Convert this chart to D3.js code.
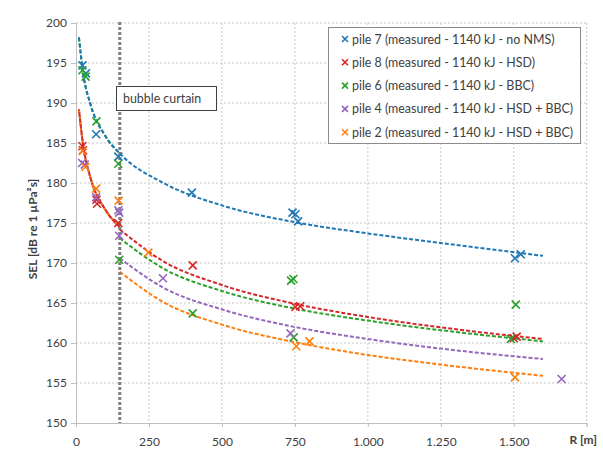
<!DOCTYPE html>
<html>
<head>
<meta charset="utf-8">
<script src="https://cdn.jsdelivr.net/npm/d3@7"></script>
<style>
  body { margin: 0; background: #fff; }
  text { font-family: Lato, "Open Sans", sans-serif; fill: #404040; }
</style>
</head>
<body>
<svg id="drawing_region"></svg>
<script>
// legend labels + colours, in legend order
const seriesLabels = [
  "pile 7 (measured - 1140 kJ - no NMS)",
  "pile 8 (measured - 1140 kJ - HSD)",
  "pile 6 (measured - 1140 kJ - BBC)",
  "pile 4 (measured - 1140 kJ - HSD + BBC)",
  "pile 2 (measured - 1140 kJ - HSD + BBC)"
];
const seriesColors = ["#1f77b4", "#d62728", "#2ca02c", "#9467bd", "#ff7f0e"];

// measured points [R in m, SEL in dB]
const pile7 = [[22, 194.7], [34, 193.7], [69, 186.1], [145, 183.3], [397, 178.8],
               [742, 176.3], [752, 176.1], [761, 175.2], [1504, 170.6], [1524, 171.1]];
const pile8 = [[22, 184.6], [24, 184.1], [70, 177.9], [72, 177.4], [145, 175.0],
               [400, 169.7], [752, 164.5], [768, 164.6], [1500, 160.6], [1510, 160.8]];
const pile6 = [[22, 194.1], [33, 193.3], [70, 187.7], [145, 182.4], [148, 170.4],
               [400, 163.7], [737, 167.8], [745, 168.0], [746, 160.7], [1490, 160.5], [1507, 164.8]];
const pile4 = [[21, 182.5], [30, 182.3], [69, 178.2], [145, 176.6], [148, 176.3],
               [148, 173.4], [298, 168.1], [735, 161.2], [1664, 155.5]];
const pile2 = [[23, 184.0], [32, 182.0], [69, 179.3], [146, 177.8], [248, 171.3],
               [755, 159.6], [800, 160.2], [1504, 155.7]];

// dashed trend lines
const trendR     = [10, 25, 50, 100, 150, 300, 500, 750, 1000, 1250, 1600];
const trendPreR  = [10, 25, 50, 100, 150];
const trendPostR = [150, 300, 500, 750, 1000, 1250, 1600];
const pile7Trend     = [198.2, 193.6, 189.8, 185.9, 183.7, 180.0, 177.2, 175.1, 173.7, 172.5, 170.9];
const pile6TrendPre  = [198.2, 193.6, 189.8, 185.9, 183.7];
const hsdTrendPre    = [189.2, 184.6, 180.6, 176.7, 174.5];
const pile8TrendPost = [174.2, 170.2, 167.25, 164.9, 163.25, 161.95, 160.5];
const pile6TrendPost = [173.1, 169.3, 166.5, 164.3, 162.8, 161.6, 160.2];
const pile4TrendPost = [170.6, 166.9, 164.2, 162.0, 160.5, 159.3, 158.0];
const pile2TrendPost = [168.9, 165.1, 162.3, 160.1, 158.5, 157.3, 155.9];

const bubbleCurtainR = 150;
const yTicks = d3.range(150, 201, 5);
const xTicks = [0, 250, 500, 750, 1000, 1250, 1500, 1750];
const xGrid = [250, 500, 750, 1000, 1250, 1500, 1750];

const width = 603, height = 449;
const plot = {left: 76, right: 586.7, top: 23, bottom: 423};

const svg = d3.select('#drawing_region')
    .attr('width', width)
    .attr('height', height);

const xScale = d3.scaleLinear().domain([0, 1750]).range([plot.left, plot.right]);
const yScale = d3.scaleLinear().domain([150, 200]).range([plot.bottom, plot.top]);

const de = d3.formatLocale({decimal: ",", thousands: ".", grouping: [3], currency: ["", "€"]});
const fmt = de.format(",");

// grid
svg.append('g').selectAll('line')
    .data(yTicks.filter(d => d > 150))
    .join('line')
    .attr('x1', plot.left).attr('x2', plot.right)
    .attr('y1', d => yScale(d)).attr('y2', d => yScale(d))
    .attr('stroke', '#c6c6c6').attr('stroke-dasharray', '2,2');
svg.append('g').selectAll('line')
    .data(xGrid)
    .join('line')
    .attr('x1', d => xScale(d)).attr('x2', d => xScale(d))
    .attr('y1', plot.top).attr('y2', plot.bottom)
    .attr('stroke', '#c6c6c6').attr('stroke-dasharray', '2,2');

// axes
const yAxis = d3.axisLeft(yScale).tickValues(yTicks).tickSize(5).tickPadding(4);
const yg = svg.append('g').attr('transform', `translate(${plot.left},0)`).call(yAxis);
const xAxis = d3.axisBottom(xScale).tickValues(xTicks).tickSize(4).tickPadding(10)
    .tickFormat(d => d === 1750 ? '' : fmt(d));
const xg = svg.append('g').attr('transform', `translate(0,${plot.bottom})`).call(xAxis);
[yg, xg].forEach(g => {
  g.select('.domain').attr('stroke', '#bfbfbf');
  g.selectAll('.tick line').attr('stroke', '#bfbfbf');
  g.selectAll('.tick text').style('font-size', '12px').attr('fill', '#404040')
    .style('font-family', 'Lato, sans-serif');
});

svg.append('text')
    .attr('transform', `translate(37,${(plot.top + plot.bottom) / 2 + 6}) rotate(-90)`)
    .attr('text-anchor', 'middle')
    .style('font-size', '12px').style('font-weight', 'bold')
    .text('SEL [dB re 1 µPa²s]');
svg.append('text')
    .attr('x', 597).attr('y', plot.bottom + 21)
    .attr('text-anchor', 'end')
    .style('font-size', '12px').style('font-weight', 'bold')
    .text('R [m]');

// trend lines
const line = d3.line()
    .x(d => xScale(d[0]))
    .y(d => yScale(d[1]))
    .curve(d3.curveMonotoneX);
const trends = [
  {r: trendPreR,  v: pile6TrendPre,  c: seriesColors[2]},
  {r: trendR,     v: pile7Trend,     c: seriesColors[0]},
  {r: trendPreR,  v: hsdTrendPre,    c: seriesColors[3]},
  {r: trendPreR,  v: hsdTrendPre,    c: seriesColors[4]},
  {r: trendPreR,  v: hsdTrendPre,    c: seriesColors[1]},
  {r: trendPostR, v: pile8TrendPost, c: seriesColors[1]},
  {r: trendPostR, v: pile6TrendPost, c: seriesColors[2]},
  {r: trendPostR, v: pile4TrendPost, c: seriesColors[3]},
  {r: trendPostR, v: pile2TrendPost, c: seriesColors[4]}
];
svg.append('g').selectAll('path')
    .data(trends)
    .join('path')
    .attr('d', t => line(t.r.map((r, i) => [r, t.v[i]])))
    .attr('fill', 'none')
    .attr('stroke', t => t.c)
    .attr('stroke-width', 2)
    .attr('stroke-dasharray', '4,2')
    .attr('stroke-dashoffset', (t, i) => i === 4 ? 3 : 0);

// bubble curtain
svg.append('line')
    .attr('x1', xScale(bubbleCurtainR)).attr('x2', xScale(bubbleCurtainR))
    .attr('y1', plot.top - 1).attr('y2', plot.bottom)
    .attr('stroke', '#7f7f7f').attr('stroke-width', 3).attr('stroke-dasharray', '3,2');
svg.append('rect')
    .attr('x', 116.5).attr('y', 86.5).attr('width', 100).attr('height', 24)
    .attr('fill', '#fff').attr('stroke', '#404040');
svg.append('text')
    .attr('x', 123).attr('y', 103)
    .style('font-size', '12.4px')
    .text('bubble curtain');

// markers
const allSeries = [pile7, pile8, pile6, pile4, pile2];
const cross = s => `M${-s},${-s}L${s},${s}M${-s},${s}L${s},${-s}`;
allSeries.forEach((pts, i) => {
  svg.append('g').selectAll('path')
      .data(pts)
      .join('path')
      .attr('transform', d => `translate(${xScale(d[0])},${yScale(d[1])})`)
      .attr('d', cross(4))
      .attr('fill', 'none')
      .attr('stroke', seriesColors[i])
      .attr('stroke-width', 1.6);
});

// legend
const legend = svg.append('g');
legend.append('rect')
    .attr('x', 328.5).attr('y', 27.5).attr('width', 252).attr('height', 116)
    .attr('fill', '#fff').attr('stroke', '#8c8c8c');
const items = legend.selectAll('g.item')
    .data(seriesLabels)
    .join('g')
    .attr('transform', (d, i) => `translate(345,${39 + i * 23.3})`);
items.append('path')
    .attr('d', cross(3))
    .attr('fill', 'none')
    .attr('stroke', (d, i) => seriesColors[i])
    .attr('stroke-width', 1.6);
items.append('text')
    .attr('x', 7).attr('y', 4.5)
    .style('font-size', '12.4px')
    .text(d => d);
</script>
</body>
</html>
